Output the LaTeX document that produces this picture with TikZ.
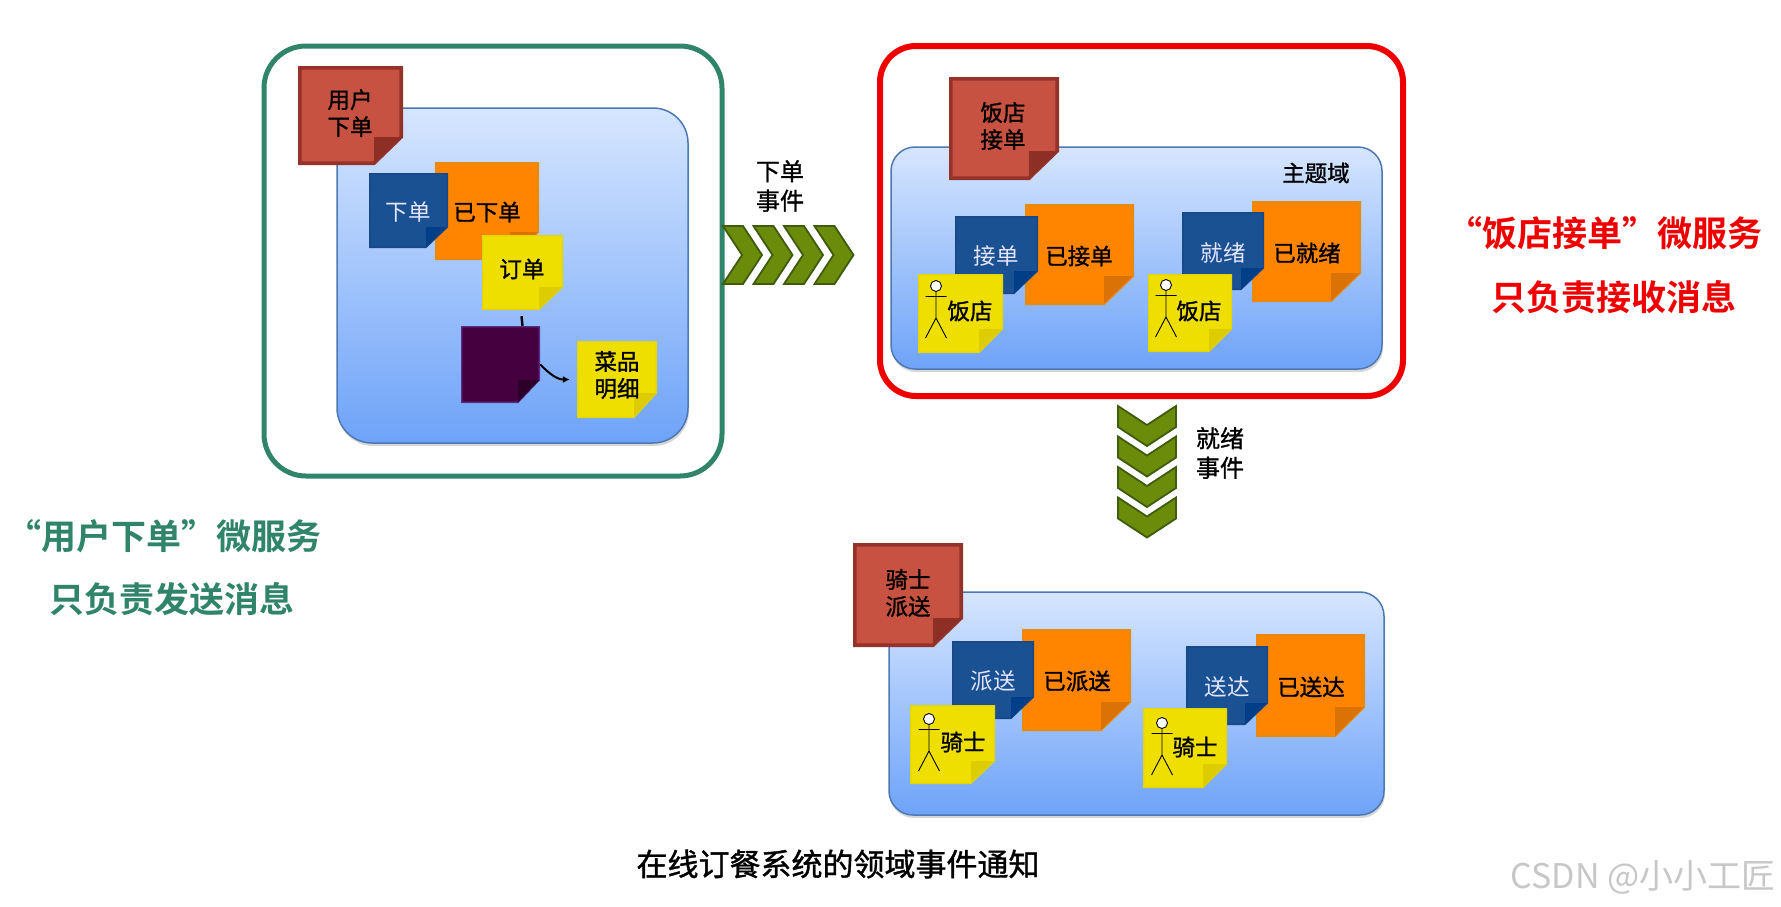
\documentclass[tikz,border=0pt]{standalone}
\usepackage{fontspec}
\setmainfont{Noto Sans CJK SC}
\newfontfamily\cjkfb[FakeBold=1.2]{Noto Sans CJK SC}
\newfontfamily\cjkb{Noto Sans CJK SC Bold}
\usetikzlibrary{arrows.meta}
\definecolor{redF}{HTML}{C75241}\definecolor{redL}{HTML}{953229}\definecolor{redK}{HTML}{8E2F26}
\definecolor{bluF}{HTML}{1A5192}\definecolor{bluL}{HTML}{17488A}\definecolor{bluK}{HTML}{003F88}
\definecolor{oraF}{HTML}{FF8500}\definecolor{oraL}{HTML}{E98A10}\definecolor{oraK}{HTML}{DA7205}
\definecolor{yelF}{HTML}{EEDF00}\definecolor{yelL}{HTML}{E2D60A}\definecolor{yelK}{HTML}{DDCC00}
\definecolor{purF}{HTML}{45003F}\definecolor{purL}{HTML}{5A2C86}\definecolor{purK}{HTML}{2C0028}
\definecolor{frameG}{HTML}{2F8469}\definecolor{frameR}{HTML}{EE0000}
\definecolor{chevF}{HTML}{6B8C0A}\definecolor{chevL}{HTML}{3E5C0C}
\definecolor{paneT}{HTML}{D6E6FF}\definecolor{paneB}{HTML}{6EA3F8}\definecolor{paneL}{HTML}{4D78B4}
\tikzset{
  x=1pt,y=-1pt,
  lbl/.style={font=\cjkfb\fontsize{22.5}{27}\selectfont,text=black,inner sep=0pt},
  lblw/.style={font=\fontsize{22.5}{27}\selectfont,text=white!90!blue,inner sep=0pt},
  evt/.style={font=\cjkfb\fontsize{24}{29.5}\selectfont,text=black,inner sep=0pt,align=center},
  big/.style={font=\cjkb\fontsize{35}{40}\selectfont,inner sep=0pt},
  bluepane/.style={top color=paneT,bottom color=paneB,draw=paneL,line width=1.5pt},
  outer/.style={line width=5pt,fill=white},
  chev/.style={fill=chevF,draw=chevL,line width=1.8pt,line join=miter},
  stick/.style={draw=black,line width=0.9pt},
}
% half border widths per colour
\def\nwred{1.8}\def\nwblu{0.8}\def\nwora{1.2}\def\nwyel{0.7}\def\nwpur{0.7}
% name, colour prefix, x0,y0,x1,y1, fold x, fold y
\newcommand\stickynote[8]{%
  \node[minimum width={#5pt-#3pt},minimum height={#6pt-#4pt},inner sep=0pt] (#1) at ({(#3+#5)/2},{(#4+#6)/2}) {};
  \edef\nw{\csname nw#2\endcsname}%
  \filldraw[fill=#2F,draw=#2L,line width=2*\nw pt,line join=miter]
     (#3+\nw,#4+\nw)--(#5-\nw,#4+\nw)--(#5-\nw,#8)--(#7,#6-\nw)--(#3+\nw,#6-\nw)--cycle;
  \fill[#2K] (#7,#6-\nw)--(#7,#8)--(#5-\nw,#8)--cycle;
}
\newcommand\stickman[2]{% cx, head y
  \draw[stick,fill=white] (#1,#2) circle (5.5pt);
  \draw[stick] (#1-10.5,#2+10.5)--(#1+10.5,#2+10.5) (#1,#2+5.5)--(#1,#2+32) (#1-10.5,#2+52)--(#1,#2+32)--(#1+10.5,#2+52);
}
\begin{document}
\begin{tikzpicture}
\useasboundingbox (0,0) rectangle (1781,906);
\fill[white] (0,0) rectangle (1781,906);

% ---- frames
\draw[outer,draw=frameG,rounded corners=42pt] (264,46) rectangle (722,476);
\draw[outer,draw=frameR,line width=6pt,rounded corners=36pt] (880,46) rectangle (1403,396);

% ---- panes
\foreach \a/\b/\c/\d/\r in {337/108/688/443/35,891/147/1382/369/24,889/592/1384/815/24}{
  \fill[black!45,opacity=.35,rounded corners=\r pt] (\a+1,\b+3) rectangle (\c+1,\d+3);
  \shade[bluepane,rounded corners=\r pt] (\a,\b) rectangle (\c,\d);
}

% ---- pane 1
\stickynote{p1}{red}{298}{66}{403}{165}{374}{137}
\node[lbl,align=center] (p1t) at (350,113) {用户\\下单};
\stickynote{o1}{ora}{435}{162}{539}{260}{510}{232}
\stickynote{b1}{blu}{369}{173}{448}{248}{426}{227}
\node[lblw] (b1t) at (408,212) {下单};
\node[lbl] (o1t) at (487,212) {已下单};
\stickynote{y1}{yel}{482}{235}{563}{310}{539}{287}
\node[lbl] (y1t) at (522,269) {订单};
\stickynote{pu}{pur}{461}{326}{540}{403}{518}{380}
\stickynote{m1}{yel}{577}{341}{657}{418}{634}{393}
\node[lbl,align=center] (m1t) at (617,375) {菜品\\明细};
\draw[line width=2.4pt] ([yshift=-6pt,xshift=-1pt]y1.south) -- ([xshift=22pt]pu.north);
\draw[line width=2pt,-{Latex[length=7pt,width=7pt]}] (pu.east) to[out=-45,in=180] ([xshift=-7pt]m1.west);

% ---- event 1
\foreach \i in {0,1,2,3}{
  \draw[chev,xshift=30.5*\i pt] (723,226)--(743,226)--(762,255)--(743,284)--(723,284)--(742,255)--cycle;
}
\node[evt] (e1) at (780,186) {下单\\事件};

% ---- pane 2
\stickynote{p2}{red}{949}{77}{1059}{180}{1029}{151}
\node[lbl,align=center] (p2t) at (1003,126) {饭店\\接单};
\node[lbl] (dom) at (1316,173) {主题域};
\stickynote{o2}{ora}{1025}{204}{1134}{305}{1104}{276}
\stickynote{b2}{blu}{955}{216}{1038}{294}{1014}{271}
\node[lblw] (b2t) at (996,256) {接单};
\node[lbl] (o2t) at (1079,256) {已接单};
\stickynote{y2}{yel}{918}{274}{1003}{353}{979}{329}
\stickman{936}{286}
\node[lbl] (y2t) at (970,311) {饭店};
\stickynote{o3}{ora}{1252}{201}{1361}{302}{1331}{273}
\stickynote{b3}{blu}{1182}{212}{1264}{290}{1241}{268}
\node[lblw] (b3t) at (1223,253) {就绪};
\node[lbl] (o3t) at (1307,253) {已就绪};
\stickynote{y3}{yel}{1148}{274}{1232}{352}{1209}{329}
\stickman{1166}{285}
\node[lbl] (y3t) at (1199,311) {饭店};

% ---- event 2
\foreach \i in {0,1,2,3}{
  \draw[chev,yshift=-30.5*\i pt] (1118,406)--(1147,425)--(1176,406)--(1176,427)--(1147,446)--(1118,427)--cycle;
}
\node[evt] (e2) at (1220,453) {就绪\\事件};

% ---- pane 3
\stickynote{p3}{red}{853}{543}{963}{647}{933}{618}
\node[lbl,align=center] (p3t) at (908,593) {骑士\\派送};
\stickynote{o4}{ora}{1022}{629}{1131}{731}{1101}{702}
\stickynote{b4}{blu}{952}{641}{1034}{719}{1011}{697}
\node[lblw] (b4t) at (993,681) {派送};
\node[lbl] (o4t) at (1077,681) {已派送};
\stickynote{y4}{yel}{910}{705}{995}{784}{971}{761}
\stickman{929}{719}
\node[lbl] (y4t) at (963,742) {骑士};
\stickynote{o5}{ora}{1256}{634}{1365}{737}{1335}{707}
\stickynote{b5}{blu}{1186}{646}{1268}{725}{1245}{703}
\node[lblw] (b5t) at (1227,687) {送达};
\node[lbl] (o5t) at (1311,687) {已送达};
\stickynote{y5}{yel}{1143}{708}{1227}{788}{1203}{764}
\stickman{1162}{723}
\node[lbl] (y5t) at (1195,747) {骑士};

% ---- captions
\node[big,text=frameG] (c1) at (164,536) {“用户下单”微服务};
\node[big,text=frameG] (c2) at (172,599) {只负责发送消息};
\node[big,text=frameR] (c3) at (1605,233) {“饭店接单”微服务};
\node[big,text=frameR] (c4) at (1614,297) {只负责接收消息};
\node[inner sep=0pt,font=\cjkfb\fontsize{31}{36}\selectfont] (ttl) at (838,864) {在线订餐系统的领域事件通知};
\node[inner sep=0pt,text=black!22,font=\fontsize{34}{38}\selectfont] (wm) at (1643,877) {CSDN @小小工匠};
\end{tikzpicture}
\end{document}
